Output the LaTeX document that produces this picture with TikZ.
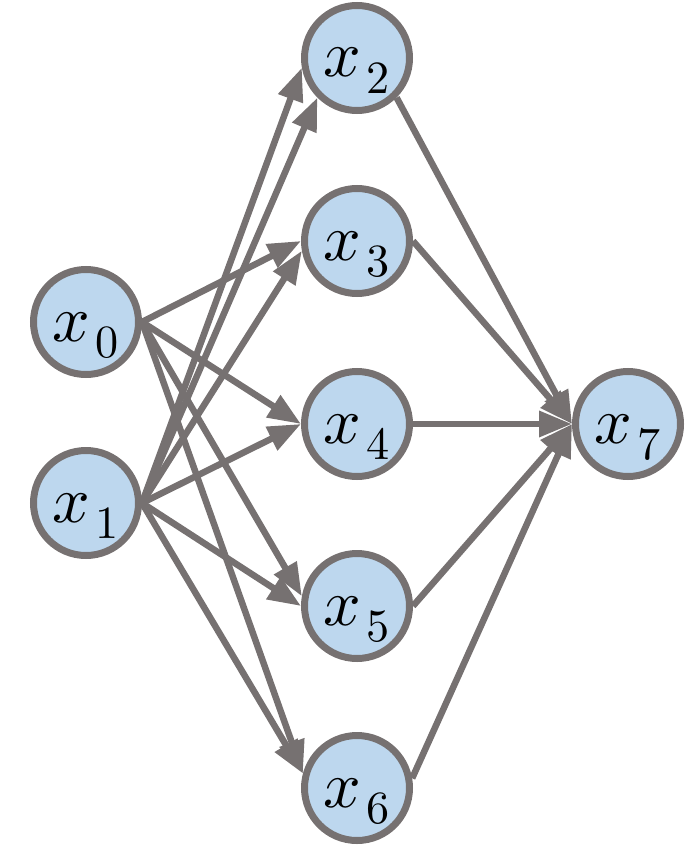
\documentclass[tikz,border=0pt]{standalone}
\usepackage{unicode-math}
\setmathfont{Latin Modern Math}
\usetikzlibrary{arrows.meta}
\definecolor{edgegray}{RGB}{118,113,113}
\definecolor{nodeblue}{RGB}{189,215,238}
\tikzset{
  neuron/.style={circle, draw=edgegray, fill=nodeblue, line width=7pt,
    minimum size=105pt, inner sep=0pt, text height=38pt, text depth=0pt,
    font=\fontsize{66}{74}\selectfont},
  conn/.style={draw=edgegray, line width=6.5pt,
    -{Triangle[length=33pt,width=25pt]}},
}
\newcommand{\lab}[1]{$x_{\kern5pt #1}$}
\begin{document}
\begin{tikzpicture}[x=1pt,y=-1pt]
\useasboundingbox (0,0) rectangle (685,864);
\node[neuron] (x0) at (86,322) {\lab{0}};
\node[neuron] (x1) at (86,503) {\lab{1}};
\node[neuron] (x2) at (357,58) {\lab{2}};
\node[neuron] (x3) at (357,241) {\lab{3}};
\node[neuron] (x4) at (357,424) {\lab{4}};
\node[neuron] (x5) at (357,606) {\lab{5}};
\node[neuron] (x6) at (357,788) {\lab{6}};
\node[neuron] (x7) at (628,424) {\lab{7}};
% input layer edges
\draw[conn] (x1.east) -- (x2.190);
\draw[conn] (x1.east) -- (x2.225);
\draw[conn] (x0.east) -- (x3.west);
\draw[conn] (x1.east) -- (x3.190);
\draw[conn] (x0.east) -- (x4.west);
\draw[conn] (x1.east) -- (x4.west);
\draw[conn] (x0.east) -- (x5.170);
\draw[conn] (x1.east) -- (x5.west);
\draw[conn] (x0.east) -- (x6.165);
\draw[conn] (x1.east) -- (x6.165);
% hidden to output
\draw[conn] (x2.-45) -- (x7.west);
\draw[conn] (x3.east) -- (x7.west);
\draw[conn] (x4.east) -- (x7.west);
\draw[conn] (x5.east) -- (x7.west);
\draw[conn] (x6.10) -- (x7.west);
\end{tikzpicture}
\end{document}
